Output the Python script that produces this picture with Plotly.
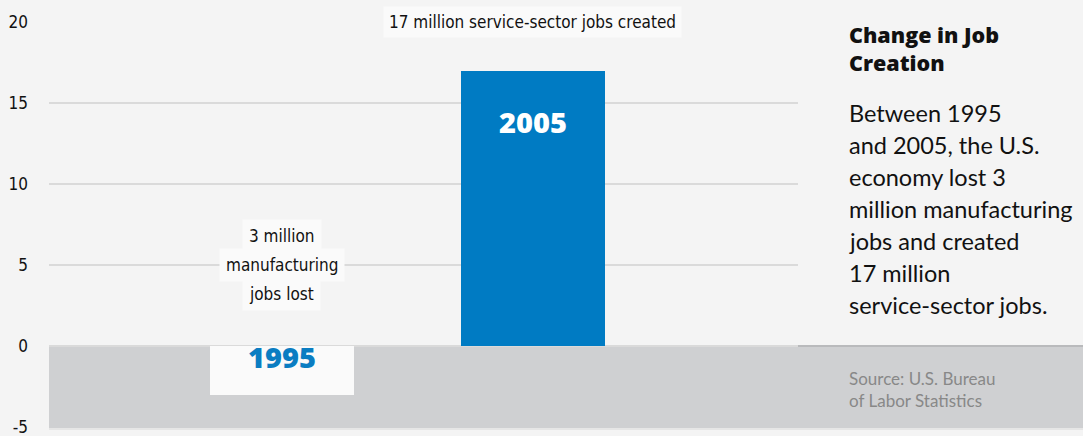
import plotly.graph_objects as go

years = ["1995", "2005"]
change = [-3, 17]
bar_colors = ["#fafafa", "#007bc3"]
year_label_colors = ["#0a7dc2", "#ffffff"]
y_ticks = [-5, 0, 5, 10, 15, 20]
y_tick_text = ["-5", "0", "5", "10", "15", "20"]

title_lines = ["Change in Job", "Creation"]
body_lines = ["Between 1995", "and 2005, the U.S.", "economy lost 3", "million manufacturing",
              "jobs and created", "17 million", "service-sector jobs."]
source_lines = ["Source: U.S. Bureau", "of Labor Statistics"]
note_2005 = "17 million service-sector jobs created"
note_1995_lines = ["3 million", "manufacturing", "jobs lost"]

W, H = 1083, 436
ML, MR, MT, MB = 49, 285, 22, 9
plot_w = W - ML - MR
plot_h = H - MT - MB
ymin, ymax = -5, 20

COND = "DejaVu Sans Condensed, Liberation Sans Narrow, Roboto Condensed, sans-serif"
HUM = "Lato, Open Sans, sans-serif"
BOLD = "Open Sans, Lato, sans-serif"
BG = "#f4f4f4"
NOTE_BG = "#fafafa"

xpos = list(range(len(years)))

fig = go.Figure()
fig.add_trace(go.Bar(
    x=xpos, y=change, width=0.574,
    marker=dict(color=bar_colors, line=dict(width=0)),
    hoverinfo="skip", showlegend=False,
))

zero_frac = (0 - ymin) / (ymax - ymin)
x_right = (W - ML) / plot_w
fig.add_shape(type="rect", xref="paper", yref="paper", x0=0, x1=x_right,
              y0=-0.005, y1=zero_frac, fillcolor="#cfd0d2", line=dict(width=0), layer="below")
fig.add_shape(type="line", xref="paper", yref="paper", x0=0, x1=x_right,
              y0=zero_frac, y1=zero_frac, line=dict(color="#b9babc", width=2), layer="below")
fig.add_shape(type="line", xref="paper", yref="paper", x0=0, x1=x_right,
              y0=-0.005, y1=-0.005, line=dict(color="#e6e6e6", width=2), layer="below")

ann = []
for xi, yr, v, c in zip(xpos, years, change, year_label_colors):
    ann.append(dict(x=xi, y=(v if v > 0 else 0), yref="y", xref="x",
                    text=yr, showarrow=False, yanchor="middle", yshift=-51 if v > 0 else -10,
                    font=dict(family=BOLD, size=29, color=c, weight=800)))
ann.append(dict(x=xpos[1], y=ymax, xref="x", yref="y", text=note_2005, showarrow=False,
                font=dict(family=COND, size=17, color="#111"), bgcolor=NOTE_BG, borderpad=5))
for i, t in enumerate(note_1995_lines):
    ann.append(dict(x=xpos[0], y=5, xref="x", yref="y", text=t, showarrow=False,
                    yshift=29 * (1 - i),
                    font=dict(family=COND, size=17, color="#111"), bgcolor=NOTE_BG, borderpad=6))

px0 = (847 - ML) / plot_w
def py(pix):
    return 1 - (pix - MT) / plot_h
ann.append(dict(xref="paper", yref="paper", x=px0, y=py(49), xanchor="left", yanchor="middle", align="left",
                text="<br>".join(title_lines), showarrow=False,
                font=dict(family=BOLD, size=21.5, color="#111", weight=800)))
for i, t in enumerate(body_lines):
    ann.append(dict(xref="paper", yref="paper", x=px0, y=py(113 + 32 * i), xanchor="left", yanchor="middle",
                    text=t, showarrow=False, font=dict(family=HUM, size=23.5, color="#111")))
for i, t in enumerate(source_lines):
    ann.append(dict(xref="paper", yref="paper", x=px0, y=py(378 + 22.5 * i), xanchor="left", yanchor="middle",
                    text=t, showarrow=False, font=dict(family=HUM, size=17, color="#888")))

fig.update_layout(
    width=W, height=H,
    margin=dict(l=ML, r=MR, t=MT, b=MB, pad=0, autoexpand=False),
    paper_bgcolor=BG, plot_bgcolor="rgba(0,0,0,0)",
    annotations=ann, bargap=0,
    xaxis=dict(range=[-0.928, 2.056], showticklabels=False, showgrid=False,
               zeroline=False, showline=False, fixedrange=True, automargin=False),
    yaxis=dict(range=[ymin, ymax], tickvals=y_ticks, ticktext=y_tick_text,
               showgrid=True, gridcolor="#dadada", gridwidth=1.5,
               zeroline=False, showline=False, ticks="", ticklabelstandoff=20,
               ticklabeloverflow="allow", fixedrange=True, automargin=False,
               tickfont=dict(family=COND, size=17, color="#111")),
)

fig.write_html("out.html", config={"displayModeBar": False},
               post_script="document.body.style.margin='0';document.body.style.background='#f4f4f4';")
